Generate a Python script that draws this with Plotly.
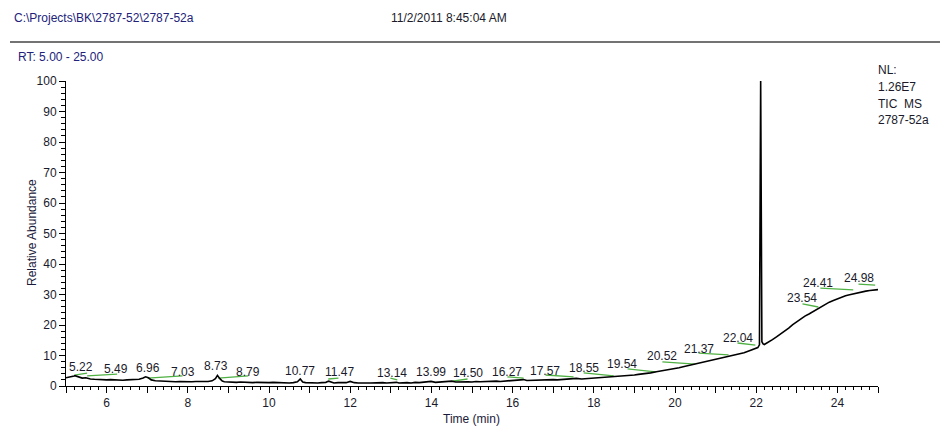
import plotly.graph_objects as go

# ---------------- data ----------------
time_min = [5.0, 5.1, 5.2, 5.22, 5.3, 5.4, 5.49, 5.6, 5.7, 5.8, 5.9, 6.0, 6.1, 6.2, 6.3, 6.4, 6.5, 6.6, 6.7, 6.8, 6.9,
            6.96, 7.03, 7.1, 7.2, 7.3, 7.4, 7.5, 7.6, 7.7, 7.8, 7.9, 8.0, 8.1, 8.2, 8.3, 8.4, 8.5, 8.6, 8.68, 8.73,
            8.79, 8.85, 8.9, 9.0, 9.1, 9.2, 9.3, 9.4, 9.5, 9.6, 9.7, 9.8, 9.9, 10.0, 10.1, 10.2, 10.3, 10.4, 10.5,
            10.6, 10.7, 10.77, 10.83, 10.9, 11.0, 11.1, 11.2, 11.3, 11.4, 11.47, 11.55, 11.6, 11.7, 11.8, 11.9,
            12.0, 12.1, 12.2, 12.3, 12.4, 12.5, 12.6, 12.7, 12.8, 12.9, 13.0, 13.14, 13.2, 13.3, 13.4, 13.5, 13.6,
            13.7, 13.8, 13.9, 13.99, 14.1, 14.2, 14.3, 14.4, 14.5, 14.6, 14.7, 14.8, 14.9, 15.0, 15.1, 15.2, 15.3,
            15.4, 15.5, 15.6, 15.7, 15.8, 15.9, 16.0, 16.1, 16.2, 16.27, 16.35, 16.5, 16.6, 16.7, 16.8, 16.9, 17.0,
            17.1, 17.2, 17.3, 17.4, 17.5, 17.57, 17.7, 17.8, 17.9, 18.0, 18.1, 18.2, 18.3, 18.4, 18.55, 18.7, 18.8,
            18.9, 19.0, 19.1, 19.2, 19.3, 19.4, 19.54, 19.7, 19.8, 19.9, 20.0, 20.1, 20.2, 20.3, 20.4, 20.52, 20.6,
            20.7, 20.8, 20.9, 21.0, 21.1, 21.2, 21.3, 21.37, 21.5, 21.6, 21.7, 21.8, 21.9, 22.0, 22.04, 22.08,
            22.11, 22.14, 22.17, 22.2, 22.3, 22.4, 22.5, 22.6, 22.7, 22.8, 22.9, 23.0, 23.1, 23.2, 23.3, 23.4,
            23.54, 23.6, 23.7, 23.8, 23.9, 24.0, 24.1, 24.2, 24.3, 24.41, 24.5, 24.6, 24.7, 24.8, 24.9, 24.98, 25.0]

rel_abundance = [2.7, 2.9, 3.3, 3.4, 3.1, 2.6, 2.7, 2.3, 2.2, 2.1, 2.2, 2.0, 2.1, 2.0, 2.1, 1.9, 2.0, 2.1, 2.0, 2.2, 2.6,
                 3.0, 2.7, 2.0, 1.7, 1.6, 1.5, 1.4, 1.5, 1.4, 1.5, 1.4, 1.5, 1.4, 1.5, 1.4, 1.5, 1.5, 1.7, 2.4, 3.5,
                 2.4, 1.6, 1.4, 1.3, 1.4, 1.2, 1.3, 1.2, 1.3, 1.1, 1.2, 1.1, 1.2, 1.1, 1.2, 1.1, 1.0, 1.1, 1.0,
                 1.1, 1.4, 2.3, 1.3, 1.1, 1.0, 1.1, 1.0, 1.1, 1.2, 1.6, 1.1, 1.0, 1.1, 1.0, 1.1,
                 1.5, 1.1, 1.0, 1.1, 1.0, 1.0, 1.1, 1.0, 1.1, 1.0, 1.1, 1.2, 1.0, 1.1, 1.1, 1.0, 1.2,
                 1.1, 1.2, 1.3, 1.5, 1.2, 1.3, 1.2, 1.4, 1.6, 1.3, 1.4, 1.3, 1.4, 1.3, 1.5, 1.4, 1.5,
                 1.4, 1.5, 1.6, 1.5, 1.6, 1.7, 1.6, 1.7, 1.8, 2.1, 1.8, 1.9, 1.8, 2.0, 1.9, 2.0, 2.1,
                 2.0, 2.1, 2.2, 2.2, 2.3, 2.5, 2.3, 2.4, 2.5, 2.5, 2.6, 2.6, 2.8, 2.8, 3.1, 3.1, 3.3,
                 3.4, 3.6, 3.8, 3.9, 4.2, 4.3, 4.7, 5.0, 5.3, 5.5, 5.8, 6.0, 6.3, 6.6, 7.0, 7.4, 7.6,
                 7.9, 8.1, 8.3, 8.6, 8.9, 9.2, 9.6, 9.9, 10.3, 10.6, 10.9, 11.4, 11.8, 12.3, 12.6, 13.5,
                 100.0, 14.5, 13.8, 13.6, 14.3, 15.2, 16.1, 17.0, 18.1, 19.0, 20.1, 21.1, 22.0, 22.9, 23.6, 24.4,
                 25.4, 26.0, 26.8, 27.5, 28.0, 28.6, 29.1, 29.6, 29.9, 30.3, 30.6, 30.8, 31.1, 31.3, 31.5, 31.8, 31.6]

# peak labels: text, label position (time, abundance)
peak_text = ["5.22", "5.49", "6.96", "7.03", "8.73", "8.79", "10.77", "11.47", "13.14", "13.99", "14.50",
             "16.27", "17.57", "18.55", "19.54", "20.52", "21.37", "22.04", "22.11", "23.54", "24.41", "24.98"]
label_time = [5.36, 6.22, 7.03, 7.87, 8.70, 9.49, 10.77, 11.73, 13.02, 14.00, 14.90,
              15.85, 16.79, 17.77, 18.70, 19.67, 20.58, 21.56, 22.05, 23.14, 23.53, 24.52]
label_abund = [6.2, 5.6, 5.9, 4.6, 6.6, 4.6, 4.9, 4.6, 4.3, 4.6, 4.3,
               4.6, 4.9, 5.9, 7.2, 9.8, 12.1, 15.7, 103.0, 28.9, 33.8, 35.4]

# green label leader lines: start/end (time, abundance)
lead_t0 = [5.21, 5.52, 7.01, 8.75, 11.46, 12.99, 14.52, 15.87, 16.81, 17.75, 18.83, 19.69, 20.58, 21.54, 23.14, 23.58, 24.52]
lead_v0 = [3.6, 3.3, 2.6, 2.6, 2.3, 2.6, 1.6, 3.0, 3.6, 4.3, 5.6, 7.9, 10.8, 14.1, 26.9, 32.1, 33.4]
lead_t1 = [5.52, 6.26, 7.87, 9.49, 11.71, 13.16, 14.89, 16.27, 17.50, 18.49, 19.52, 20.50, 21.32, 21.98, 23.53, 24.39, 24.93]
lead_v1 = [4.2, 3.9, 3.3, 3.3, 2.6, 2.0, 2.3, 2.6, 3.0, 3.3, 4.6, 7.2, 10.2, 13.4, 25.9, 31.5, 33.1]

x_tick_vals = list(range(5, 26))
x_tick_text = ["" if v % 2 else str(v) for v in x_tick_vals]
y_tick_vals = list(range(0, 101, 10))

FONT = "Liberation Sans, Arial, sans-serif"
NAVY = "#22227a"

# ---------------- figure ----------------
fig = go.Figure()

lx, ly = [], []
for a, b, c, d in zip(lead_t0, lead_v0, lead_t1, lead_v1):
    lx += [a, c, None]
    ly += [b, d, None]
fig.add_trace(go.Scatter(x=lx, y=ly, mode="lines", line=dict(color="#4fb043", width=1.3),
                         hoverinfo="skip", showlegend=False, cliponaxis=False))

fig.add_trace(go.Scatter(x=time_min, y=rel_abundance, mode="lines",
                         line=dict(color="black", width=1.6), showlegend=False, cliponaxis=False))

annotations = []
for t, x, y in zip(peak_text, label_time, label_abund):
    annotations.append(dict(x=x, y=y, xref="x", yref="y", text=t, showarrow=False,
                            xanchor="center", yanchor="middle",
                            font=dict(family=FONT, size=12, color="#1a1a2a")))

# screen-pixel helpers (plot area spans x 66..878, y 81..386 on screen)
def px2paper_x(px):
    return (px - 66) / 812.0

def px2paper_y(py):
    return (386 - py) / 305.0

annotations += [
    dict(x=px2paper_x(12), y=px2paper_y(18), xref="paper", yref="paper", text="C:\\Projects\\BK\\2787-52\\2787-52a",
         showarrow=False, xanchor="left", yanchor="middle", font=dict(family=FONT, size=12, color=NAVY)),
    dict(x=px2paper_x(389), y=px2paper_y(18), xref="paper", yref="paper", text="11/2/2011 8:45:04 AM",
         showarrow=False, xanchor="left", yanchor="middle", font=dict(family=FONT, size=12, color="#1a1a2a")),
    dict(x=px2paper_x(16), y=px2paper_y(57), xref="paper", yref="paper", text="RT: 5.00 - 25.00",
         showarrow=False, xanchor="left", yanchor="middle", font=dict(family=FONT, size=12, color=NAVY)),
    dict(x=px2paper_x(32), y=px2paper_y(233), xref="paper", yref="paper", text="Relative Abundance",
         showarrow=False, xanchor="center", yanchor="middle", textangle=-90,
         font=dict(family=FONT, size=12, color="#1a1a3a")),
    dict(x=px2paper_x(471), y=px2paper_y(419), xref="paper", yref="paper", text="Time (min)",
         showarrow=False, xanchor="center", yanchor="middle", font=dict(family=FONT, size=12, color="#1a1a3a")),
]
for txt, py in [("NL:", 70), ("1.26E7", 87), ("TIC  MS", 104), ("2787-52a", 120)]:
    annotations.append(dict(x=px2paper_x(876), y=px2paper_y(py), xref="paper", yref="paper", text=txt,
                            showarrow=False, xanchor="left", yanchor="middle",
                            font=dict(family=FONT, size=12, color="#1a1a2a")))

# page body has an 8px offset, so the figure is 940x421 with margins shifted accordingly
fig.update_layout(
    width=940, height=421, autosize=False,
    margin=dict(l=58, r=70, t=73, b=43, pad=0),
    paper_bgcolor="white", plot_bgcolor="white",
    font=dict(family=FONT, size=12, color="#1a1a2a"),
    annotations=annotations,
    shapes=[dict(type="line", xref="paper", yref="paper",
                 x0=px2paper_x(10), x1=px2paper_x(940), y0=px2paper_y(42), y1=px2paper_y(42),
                 line=dict(color="#444444", width=1.5))],
    xaxis=dict(range=[5, 25], showgrid=False, zeroline=False, showline=True, linecolor="black", linewidth=1,
               ticks="outside", ticklen=6, tickwidth=1, tickcolor="black",
               tickmode="array", tickvals=x_tick_vals, ticktext=x_tick_text,
               tickfont=dict(family=FONT, size=12, color="#1a1a2a"),
               minor=dict(ticks="outside", ticklen=3, dtick=0.2, tick0=5, tickcolor="black", showgrid=False)),
    yaxis=dict(range=[0, 100], showgrid=False, zeroline=False, showline=True, linecolor="black", linewidth=1,
               ticks="outside", ticklen=6, tickwidth=1, tickcolor="black",
               tickmode="array", tickvals=y_tick_vals,
               tickfont=dict(family=FONT, size=12, color="#1a1a2a"),
               minor=dict(ticks="outside", ticklen=4, dtick=2, tick0=0, tickcolor="black", showgrid=False)),
)

fig.write_html("out.html")
